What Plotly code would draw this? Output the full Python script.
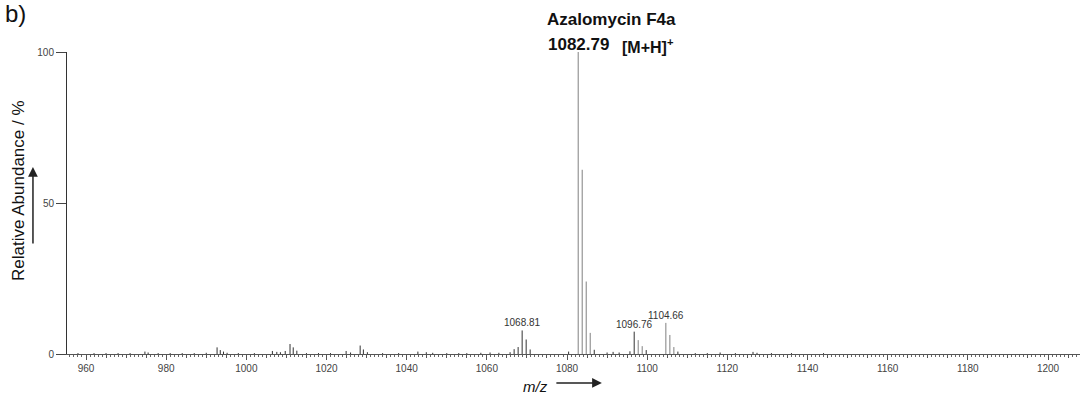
import plotly.graph_objects as go

# ---- data ----
light_mz = [1082.79, 1083.79, 1084.79, 1085.79, 1097.76, 1098.76, 1104.66, 1105.66, 1106.66]
light_int = [100, 61, 24, 7, 4.6, 2.6, 10.3, 6.3, 2.3]

dark_mz = [1068.81, 1069.81, 1070.81, 1067.81, 1066.81, 1065.8, 1096.76, 1099.76, 1107.66,
           1086.8, 1080.4, 1090.0, 1091.5, 1093.0, 1095.7,
           992.7, 993.5, 994.3, 995.2, 974.7, 975.5,
           1010.9, 1011.7, 1009.7, 1012.6, 1007.6, 1006.5, 1008.5,
           1024.9, 1028.4, 1029.2, 1030.2, 1026.0,
           1042.8, 1044.9, 1046.5, 1058.5, 1060.8, 1063.0,
           1118.2, 1126.4, 1127.4,
           958, 962, 965, 968, 971, 978, 981, 984, 987, 990, 998, 1002, 1015, 1018,
           1021, 1034, 1038, 1050, 1053, 1055, 1112, 1115, 1122, 1131, 1136, 1144]
dark_int = [7.8, 4.8, 1.5, 2.3, 1.6, 0.6, 7.4, 1.3, 0.8,
            1.4, 0.8, 0.5, 0.7, 0.5, 0.9,
            2.2, 1.3, 0.8, 0.4, 0.8, 0.5,
            3.3, 2.2, 1.0, 1.1, 0.7, 1.0, 0.6,
            1.0, 2.8, 1.5, 0.6, 0.5,
            0.8, 0.6, 0.4, 0.4, 0.5, 0.4,
            0.5, 0.7, 0.4,
            0.3, 0.3, 0.3, 0.3, 0.3, 0.3, 0.3, 0.3, 0.3, 0.4, 0.3, 0.3, 0.3, 0.3,
            0.3, 0.3, 0.3, 0.3, 0.3, 0.3, 0.3, 0.3, 0.3, 0.3, 0.3, 0.3]

label_mz = [1068.81, 1096.76, 1104.66]
label_int = [7.8, 7.4, 10.3]

base_peak_mz = 1082.79
compound = "Azalomycin F4a"

y_ticks = [0, 50, 100]
x_ticks = list(range(960, 1201, 20))

TXT = "Liberation Sans, Arial, sans-serif"


def sticks(mz, inten):
    xs, ys = [], []
    for m, v in zip(mz, inten):
        xs += [m, m, None]
        ys += [0, v, None]
    return xs, ys


fig = go.Figure()
lx, ly = sticks(light_mz, light_int)
dx, dy = sticks(dark_mz, dark_int)
fig.add_trace(go.Scatter(x=dx, y=dy, mode="lines", line=dict(color="#333333", width=1),
                         hoverinfo="skip", showlegend=False, cliponaxis=False))
fig.add_trace(go.Scatter(x=lx, y=ly, mode="lines", line=dict(color="#808080", width=1),
                         hoverinfo="skip", showlegend=False, cliponaxis=False))
# helper trace for the 5-unit tick level
fig.add_trace(go.Scatter(x=[None], y=[None], xaxis="x2", showlegend=False, hoverinfo="skip"))

annotations = []
for m, v in zip(label_mz, label_int):
    annotations.append(dict(x=m, y=v, xref="x", yref="y", text=f"{m:.2f}", showarrow=False,
                            yanchor="bottom", xanchor="center", yshift=0,
                            font=dict(family=TXT, size=10, color="#333333")))

annotations += [
    dict(x=1091.2, y=1.106, xref="x", yref="paper", text=f"<b>{compound}</b>", showarrow=False,
         font=dict(family=TXT, size=17, color="#111111"), xanchor="center", yanchor="middle"),
    dict(x=base_peak_mz, y=1.025, xref="x", yref="paper", text=f"<b>{base_peak_mz:.2f}</b>", showarrow=False,
         font=dict(family=TXT, size=17, color="#111111"), xanchor="center", yanchor="middle"),
    dict(x=1100.3, y=1.02, xref="x", yref="paper", text="<b>[M+H]<sup>+</sup></b>", showarrow=False,
         font=dict(family=TXT, size=16, color="#111111"), xanchor="center", yanchor="middle"),
    dict(x=-0.0513, y=1.126, xref="paper", yref="paper", text="b)", showarrow=False,
         font=dict(family=TXT, size=24, color="#111111"), xanchor="center", yanchor="middle"),
    dict(x=-0.0484, y=0.543, xref="paper", yref="paper", text="Relative Abundance / %",
         showarrow=False, textangle=-90,
         font=dict(family=TXT, size=17, color="#111111"), xanchor="center", yanchor="middle"),
    dict(x=0.462, y=-0.109, xref="paper", yref="paper", text="<i>m/z</i>", showarrow=False,
         font=dict(family=TXT, size=15, color="#111111"), xanchor="center", yanchor="middle"),
    # arrows
    dict(x=-0.0336, y=0.619, xref="paper", yref="paper", ax=0, ay=78, text="",
         showarrow=True, arrowhead=2, arrowsize=1.3, arrowwidth=1.5, arrowcolor="#222222", standoff=0),
    dict(x=0.528, y=-0.096, xref="paper", yref="paper", ax=-47, ay=0, text="",
         showarrow=True, arrowhead=2, arrowsize=1.3, arrowwidth=1.5, arrowcolor="#222222", standoff=0),
]

fig.update_layout(
    width=1080, height=394,
    margin=dict(l=67, r=0, t=52, b=40),
    paper_bgcolor="white", plot_bgcolor="white",
    showlegend=False,
    annotations=annotations,
    xaxis=dict(range=[955.26, 1207.98], showgrid=False, zeroline=False,
               showline=True, linecolor="#555555", linewidth=1,
               tickmode="array", tickvals=x_ticks, ticktext=[str(t) for t in x_ticks],
               ticks="outside", ticklen=5, tickcolor="#555555", tickwidth=1,
               tickfont=dict(family=TXT, size=10, color="#444444"),
               minor=dict(dtick=1, tick0=960, ticks="outside", ticklen=2, tickcolor="#666666", showgrid=False)),
    xaxis2=dict(overlaying="x", matches="x", showgrid=False, zeroline=False, showline=False,
                anchor="y", side="bottom", showticklabels=False,
                tick0=960, dtick=5, ticks="outside", ticklen=3, tickcolor="#555555"),
    yaxis=dict(range=[0, 100], showgrid=False, zeroline=False,
               showline=True, linecolor="#333333", linewidth=1,
               tickmode="array", tickvals=y_ticks, ticktext=[str(t) for t in y_ticks],
               ticks="outside", ticklen=10, tickcolor="#444444", tickwidth=1,
               tickfont=dict(family=TXT, size=10, color="#444444")),
)

fig.write_html("out.html")
